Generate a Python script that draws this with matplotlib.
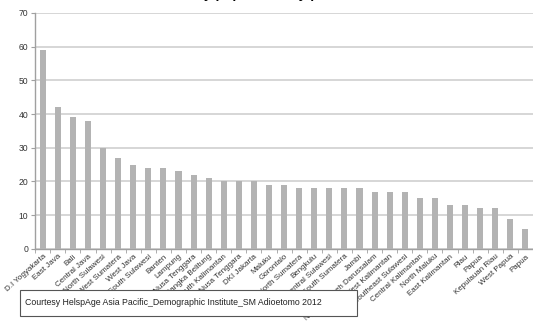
import matplotlib
matplotlib.use("Agg")
import matplotlib.pyplot as plt
from matplotlib.patches import Rectangle

plt.rcParams["font.family"] = ["Liberation Sans", "DejaVu Sans"]

provinces = [
    "D.I Yogyakarta", "East Java", "Bali", "Central Java", "North Sulawesi",
    "West Sumatera", "West Java", "South Sulawesi", "Banten", "Lampung",
    "East Nusa Tenggara", "Bangka Belitung", "South Kalimantan",
    "West Nusa Tenggara", "DKI Jakarta", "Maluku", "Gorontalo",
    "North Sumatera", "Bengkulu", "Central Sulawesi", "South Sumatera",
    "Jambi", "Nangroe Aceh Darussalam", "West Kalimantan",
    "Southeast Sulawesi", "Central Kalimantan", "North Maluku",
    "East Kalimantan", "Riau", "Papua", "Kepulauan Riau", "West Papua",
    "Papua",
]
values = [59, 42, 39, 38, 30, 27, 25, 24, 24, 23, 22, 21, 20, 20, 20, 19, 19,
          18, 18, 18, 18, 18, 17, 17, 17, 15, 15, 13, 13, 12, 12, 9, 6]
y_ticks = [0, 10, 20, 30, 40, 50, 60, 70]

title = "Elderly population by province"
source = "Courtesy HelspAge Asia Pacific_Demographic Institute_SM Adioetomo 2012"

fig = plt.figure(figsize=(5.33, 3.31), dpi=100)
ax = fig.add_axes([0.066, 0.248, 0.934, 0.713])

x = list(range(len(values)))
ax.bar(x, values, width=0.4, color="#b3b3b3", zorder=3)

ax.set_xlim(-0.5, len(values) - 0.5)
ax.set_ylim(0, 70)
ax.set_yticks(y_ticks)
ax.set_yticklabels([str(v) for v in y_ticks], fontsize=6.2, color="#333333")
ax.yaxis.grid(True, color="#d0d0d0", linewidth=1.2, zorder=0)

# category labels at bar centres, tick marks at category boundaries
ax.set_xticks(x)
ax.set_xticklabels(provinces, rotation=42, ha="right", rotation_mode="anchor",
                   fontsize=5.8, color="#333333",
                   family=["Liberation Sans Narrow", "Liberation Sans"])
ax.tick_params(axis="x", length=0, pad=3)
ax.set_xticks([i - 0.5 for i in range(len(values) + 1)], minor=True)
ax.tick_params(axis="x", which="minor", length=3, color="#a0a0a0")
ax.tick_params(axis="y", length=3, color="#a0a0a0", pad=2)

for side in ["top", "right"]:
    ax.spines[side].set_visible(False)
for side in ["left", "bottom"]:
    ax.spines[side].set_color("#a0a0a0")
    ax.spines[side].set_linewidth(1)

# title mostly cut off at the top edge, as in the source image
fig.text(0.5, 1.006, title, ha="center", va="baseline", fontsize=10,
         fontweight="bold", color="black")

# source note in a framed box below the category labels
fig.add_artist(Rectangle((0.0375, 0.045), 0.632, 0.0785, transform=fig.transFigure,
                         facecolor="white", edgecolor="#555555", linewidth=0.8,
                         zorder=5))
fig.text(0.047, 0.0846, source, fontsize=6.3, color="#222222", va="center",
         zorder=6)

fig.savefig("out.png", dpi=100)
